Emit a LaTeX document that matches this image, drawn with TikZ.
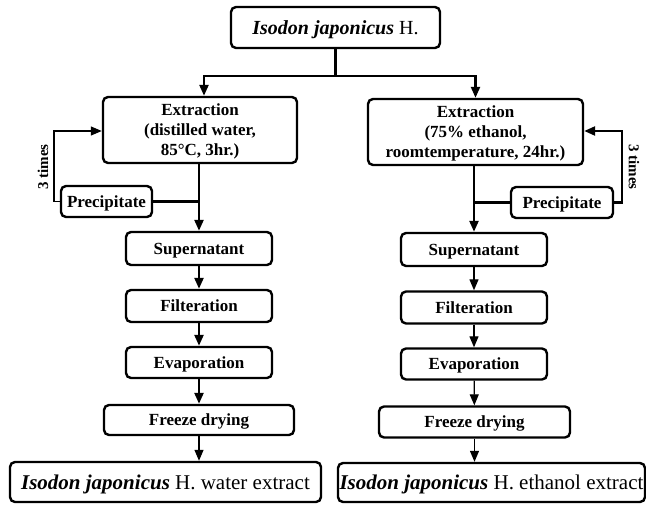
\documentclass[tikz,border=0pt]{standalone}
\usepackage{fontspec}
\setmainfont{Liberation Serif}
\usepackage{tikz}
\usetikzlibrary{arrows.meta}

\begin{document}
\begin{tikzpicture}[x=1pt,y=-1pt,
  >={Triangle[length=11pt,width=9pt]},
  stepbox/.style={draw,rounded corners=5pt,line width=2.4pt,inner sep=0pt,text depth=0pt,
    font=\bfseries\fontsize{17}{20}\selectfont},
  namebox/.style={draw,rounded corners=5pt,line width=2.4pt,inner sep=0pt,text depth=0pt,
    font=\fontsize{21}{23}\selectfont},
  thk/.style={line width=2.4pt},
  thn/.style={line width=1.2pt},
  times/.style={font=\bfseries\fontsize{15}{17}\selectfont}]
\useasboundingbox (0,0) rectangle (646,504);
\node[namebox,font=\fontsize{20}{22}\selectfont,minimum width=209pt,minimum height=41pt] (plant) at (335.5,27.5) {\textbf{\textit{Isodon japonicus}} H.};
\node[stepbox,align=center,minimum width=194pt,minimum height=66pt] (extw) at (200,130) {Extraction\\(distilled water,\\85°C, 3hr.)};
\node[stepbox,align=center,minimum width=215pt,minimum height=66pt] (exte) at (475.5,132) {Extraction\\(75\% ethanol,\\roomtemperature, 24hr.)};
\node[stepbox,minimum width=91pt,minimum height=31pt] (prew) at (106.5,201.5) {Precipitate};
\node[stepbox,minimum width=102pt,minimum height=31pt] (pree) at (562,202.5) {Precipitate};
\node[stepbox,minimum width=146pt,minimum height=33pt] (supw) at (199,248.5) {Supernatant};
\node[stepbox,minimum width=146pt,minimum height=33pt] (supe) at (474,249.5) {Supernatant};
\node[stepbox,minimum width=146pt,minimum height=32pt] (filw) at (199,306) {Filteration};
\node[stepbox,minimum width=146pt,minimum height=32pt] (file) at (474,307.5) {Filteration};
\node[stepbox,minimum width=146pt,minimum height=31pt] (evaw) at (199,362.5) {Evaporation};
\node[stepbox,minimum width=146pt,minimum height=31pt] (evae) at (474,364) {Evaporation};
\node[stepbox,minimum width=190pt,minimum height=30pt] (frzw) at (199,420) {Freeze drying};
\node[stepbox,minimum width=191pt,minimum height=31pt] (frze) at (474.5,422) {Freeze drying};
\node[namebox,minimum width=311pt,minimum height=40pt] (outw) at (165.5,482) {\textbf{\textit{Isodon japonicus}} H. water extract};
\node[namebox,minimum width=307pt,minimum height=39pt] (oute) at (491.5,482.5) {\textbf{\textit{Isodon japonicus}} H. ethanol extract};
\node[times,rotate=90] (tw) at (43,167) {3 times};
\node[times,rotate=-90] (te) at (634,167) {3 times};

\coordinate (split) at (plant.south |- 0,76);
\draw[thk] (plant.south) -- (split);
\draw[thk,->] (split) -| (204,76) -- (extw.north -| 204,0);
\draw[thk,->] (split) -| (exte.north);
\draw[thn,->] (prew.west) -| (54,131) -- (extw.west |- 0,131);
\draw[thk,->] (pree.east) -| (622,131) -- (exte.east |- 0,131);
\draw[thk] (prew.east) -- (prew.east -| supw.north);
\draw[thk] (pree.west) -- (pree.west -| supe.north);
\draw[thk,->] (extw.south -| supw.north) -- (supw.north);
\draw[thk,->] (exte.south -| supe.north) -- (supe.north);
\draw[thk,->] (supw) -- (filw);
\draw[thk,->] (filw) -- (evaw);
\draw[thk,->] (evaw) -- (frzw);
\draw[thn,->] (frzw.south) -- (frzw.south |- outw.north);
\draw[thn,->] (supe) -- (file);
\draw[thn,->] (file) -- (evae);
\draw[thn,->] (evae) -- (frze);
\draw[thn,->] (frze.south) -- (frze.south |- oute.north);
\end{tikzpicture}
\end{document}
